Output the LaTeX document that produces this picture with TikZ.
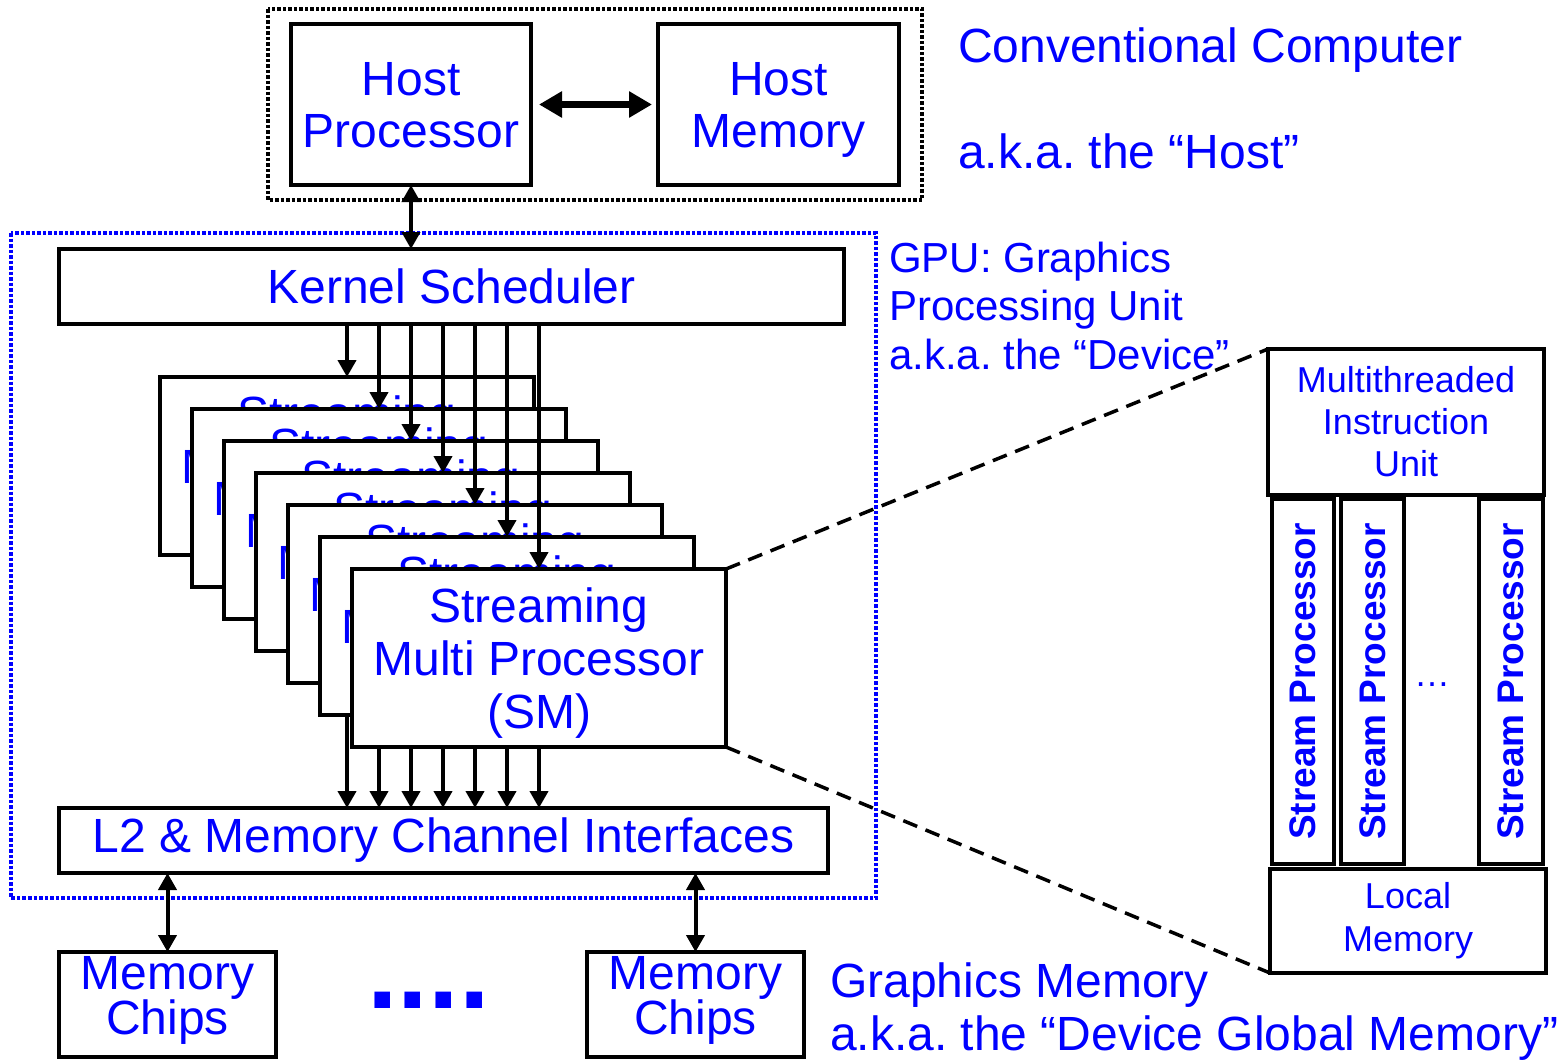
\documentclass[tikz,border=0pt]{standalone}
\usepackage{fontspec}
\setmainfont{Liberation Sans}
\usetikzlibrary{arrows.meta}
\definecolor{txtblue}{RGB}{0,0,255}
\frenchspacing
\tikzset{
  blk/.style={draw=black, line width=3.5pt, fill=white, inner sep=0pt, outer sep=0pt,
              text=txtblue, align=center},
  big/.style={font={\fontsize{48}{52}\selectfont}},
  small/.style={font={\fontsize{36}{42}\selectfont}},
  ar/.style={line width=4pt, -{Triangle[width=18pt,length=17pt]}},
  dar/.style={line width=4pt, {Triangle[width=18pt,length=17pt]}-{Triangle[width=18pt,length=17pt]}},
  bigdar/.style={line width=7pt, {Triangle[width=25pt,length=23pt]}-{Triangle[width=25pt,length=23pt]}},
  zoomline/.style={line width=3.5pt, dash pattern=on 15pt off 9pt},
  hostframe/.style={draw=black, line width=3.5pt, dash pattern=on 3.5pt off 2pt},
  gpuframe/.style={draw=txtblue, line width=3.5pt, dash pattern=on 3.5pt off 2pt},
  lbl/.style={text=txtblue, inner sep=0pt, outer sep=0pt, align=left},
}
\begin{document}
\begin{tikzpicture}[x=1pt, y=-1pt]
\useasboundingbox (0,0) rectangle (1560,1060);

% frames around the host and the device
\draw[hostframe] (268,9) rectangle (922,200);
\draw[gpuframe] (11,233) rectangle (876,898);

% host side
\node[blk, big, minimum width=240pt, minimum height=161pt, text depth=0pt] (hp) at (411,104.5) {Host\\Processor};
\node[blk, big, minimum width=241pt, minimum height=161pt, text depth=0pt] (hm) at (778.5,104.5) {Host\\Memory};
\draw[bigdar, shorten <=8pt, shorten >=6pt] (hp.east) -- (hm.west);

% device blocks
\node[blk, big, minimum width=785pt, minimum height=75pt, text depth=0pt] (ks) at (451.5,286.5) {Kernel Scheduler};
\node[blk, big, minimum width=769pt, minimum height=65pt] (l2) at (443.5,840.5) {L2 \& Memory Channel Interfaces};
\draw[dar] (hp.south) -- (hp.south |- ks.north);

% stack of streaming multiprocessors, each fed by the scheduler and feeding L2
\foreach \i in {0,...,6} {
  \node[blk, big, font={\fontsize{48}{53}\selectfont}, minimum width=374pt, minimum height=178pt, text depth=0pt]
    (sm\i) at (347+32*\i, 466+32*\i) {Streaming\\Multi Processor\\(SM)};
  \draw[ar] (sm\i.north |- ks.south) -- (sm\i.north);
  \draw[ar] (sm\i.south) -- (sm\i.south |- l2.north);
}

% global memory chips
\node[blk, font={\fontsize{48}{41}\selectfont}, minimum width=217pt, minimum height=105pt, text depth=18pt] (mc1) at (167.5,1004.5) {Memory\\Chips};
\node[blk, font={\fontsize{48}{41}\selectfont}, minimum width=217pt, minimum height=105pt, text depth=18pt] (mc2) at (695.5,1004.5) {Memory\\Chips};
\draw[dar] (mc1.north |- l2.south) -- (mc1.north);
\draw[dar] (mc2.north |- l2.south) -- (mc2.north);
\node[text=txtblue, inner sep=0pt, anchor=base, font={\bfseries\fontsize{110}{110}\selectfont}] (chipdots) at (428.5,1008) {....};

% inside one SM
\node[blk, small, minimum width=276pt, minimum height=146pt] (miu) at (1406,422) {Multithreaded\\Instruction\\Unit};
\node[blk, rotate=90, font={\bfseries\fontsize{37}{37}\selectfont}, minimum width=365pt, minimum height=62pt] (sp1) at (1303,681.5) {Stream Processor};
\node[blk, rotate=90, font={\bfseries\fontsize{37}{37}\selectfont}, minimum width=365pt, minimum height=63pt] (sp2) at (1372.5,681.5) {Stream Processor};
\node[blk, rotate=90, font={\bfseries\fontsize{37}{37}\selectfont}, minimum width=365pt, minimum height=64pt] (sp3) at (1511,681.5) {Stream Processor};
\node[text=txtblue, inner sep=0pt, anchor=base, font={\fontsize{36}{36}\selectfont}] (spdots) at (1432,686) {…};
\node[blk, font={\fontsize{36}{43}\selectfont}, minimum width=276pt, minimum height=104pt] (lm) at (1408,921) {Local\\Memory};

% zoom lines from the front SM to its detail
\draw[zoomline] (sm6.north east) -- (miu.north west);
\draw[zoomline] (sm6.south east) -- (lm.south west);

% captions
\node[lbl, big, anchor=base west] (conv) at (958,62) {Conventional Computer};
\node[lbl, big, anchor=base west] (hostcap) at (958,168) {a.k.a. the “Host”};
\node[lbl, font={\fontsize{42}{48.5}\selectfont}, anchor=north west] (gpucap) at (889,242) {GPU: Graphics\\Processing Unit\\a.k.a. the “Device”};
\node[lbl, font={\fontsize{48}{53}\selectfont}, anchor=north west] (gmemcap) at (830,962.6) {Graphics Memory\\a.k.a. the “Device Global Memory”};
\end{tikzpicture}
\end{document}
